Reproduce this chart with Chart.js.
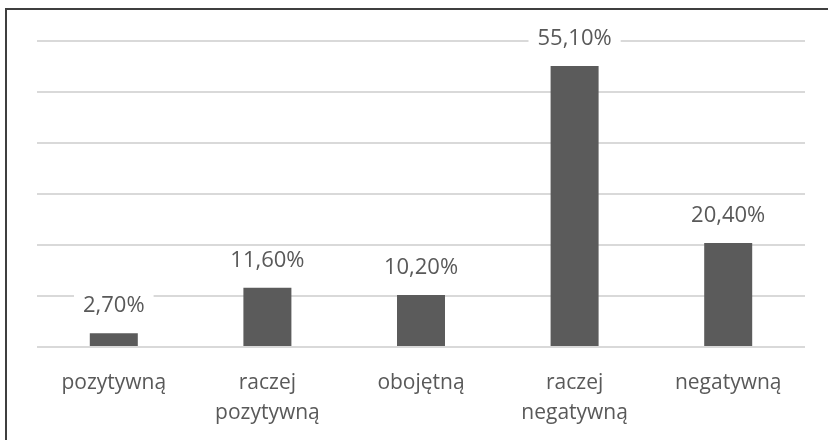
<!DOCTYPE html>
<html>
<head>
<meta charset="utf-8">
<script src="https://cdn.jsdelivr.net/npm/chart.js@4"></script>
<style>
  body { margin: 0; background: #fff; overflow: hidden; }
  #wrap { position: relative; width: 828px; height: 440px; }
  #frame { position: absolute; left: 5px; top: 8px; width: 840px; height: 450px; border: 2px solid #3f3f3f; box-sizing: border-box; }
  #chart { position: absolute; left: 0; top: 0; }
</style>
</head>
<body>
<div id="wrap">
  <div id="frame"></div>
  <canvas id="chart" width="828" height="440"></canvas>
</div>
<script>
'use strict';
// data
var categories = [['pozytywną'], ['raczej', 'pozytywną'], ['obojętną'], ['raczej', 'negatywną'], ['negatywną']];
var percents = [2.7, 11.6, 10.2, 55.1, 20.4];
var labelText = ['2,70%', '11,60%', '10,20%', '55,10%', '20,40%'];

var textColor = '#595959';
var fontFamily = '"Open Sans", sans-serif';

// labels above bars, with white box so the grid lines break around them
var valueLabels = {
  id: 'valueLabels',
  afterDatasetsDraw: function(chart) {
    var ctx = chart.ctx;
    var meta = chart.getDatasetMeta(0);
    ctx.save();
    ctx.font = '22px ' + fontFamily;
    ctx.textAlign = 'center';
    ctx.textBaseline = 'middle';
    for (var i = 0; i < meta.data.length; i++) {
      var bar = meta.data[i];
      var y = bar.y - 27;
      var w = ctx.measureText(labelText[i]).width;
      ctx.fillStyle = '#fff';
      ctx.fillRect(bar.x - w / 2 - 9, y - 12, w + 18, 24);
      ctx.fillStyle = textColor;
      ctx.fillText(labelText[i], bar.x, y);
    }
    ctx.restore();
  }
};

var ctx = document.getElementById('chart').getContext('2d');
var chart = new Chart(ctx, {
  type: 'bar',
  data: {
    labels: categories,
    datasets: [{
      data: percents,
      backgroundColor: '#5b5b5b',
      barPercentage: 0.3125,
      categoryPercentage: 1
    }]
  },
  options: {
    responsive: false,
    animation: false,
    layout: { padding: { left: 37, right: 23, top: 41, bottom: 0 } },
    plugins: {
      legend: { display: false },
      tooltip: { enabled: false }
    },
    scales: {
      x: {
        grid: { display: false },
        border: { display: false },
        ticks: {
          color: textColor,
          font: { family: fontFamily, size: 21, lineHeight: 1.43 },
          padding: 13,
          maxRotation: 0,
          autoSkip: false
        },
        afterFit: function(scale) { scale.height = 93; }
      },
      y: {
        min: 0,
        max: 60,
        ticks: { stepSize: 10, display: false },
        grid: { color: '#d9d9d9', lineWidth: 2, drawTicks: false },
        border: { display: false },
        afterFit: function(scale) { scale.width = 0; }
      }
    }
  },
  plugins: [valueLabels]
});
</script>
</body>
</html>
